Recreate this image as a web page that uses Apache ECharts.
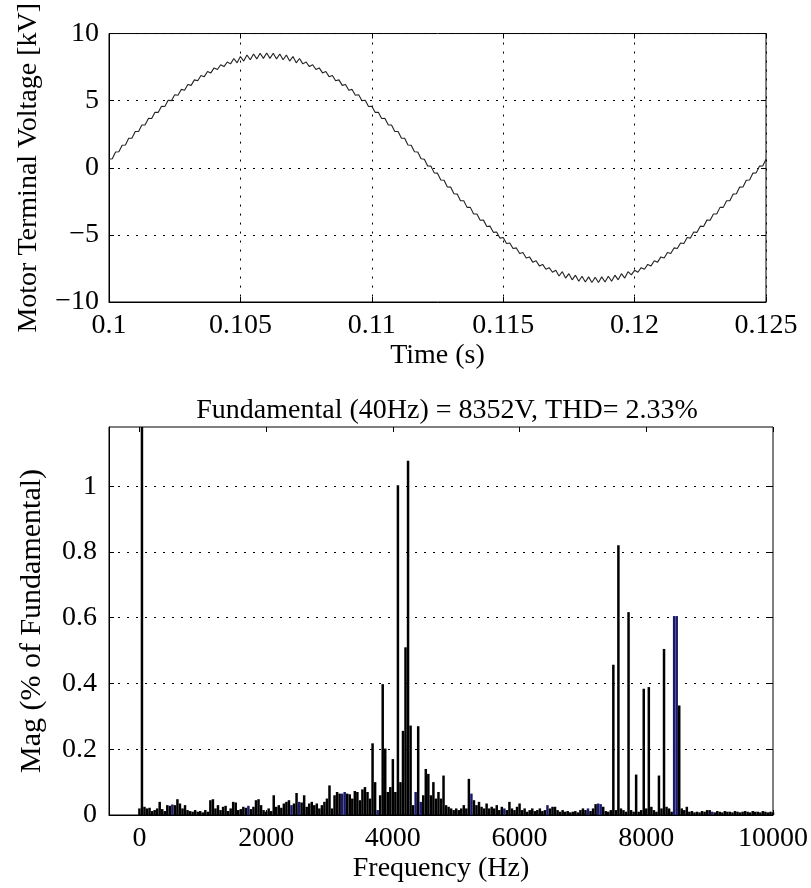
<!DOCTYPE html>
<html><head><meta charset="utf-8">
<script src="https://cdn.jsdelivr.net/npm/echarts@6/dist/echarts.min.js"></script>
<style>html,body{margin:0;padding:0;background:#fff}#c{width:811px;height:888px}</style>
</head><body><div id="c"></div>
<script>
// ---- Top plot: motor terminal voltage, sampled every 0.125 ms from 0.1 s ----
const timeStart = 0.1;
const timeStep = 0.000125;
const voltageKV = [
 0.64, 0.67, 1.17, 1.19, 1.68, 1.70, 2.20, 2.21, 2.70, 2.71,
 3.19, 3.20, 3.68, 3.67, 4.14, 4.13, 4.59, 4.57, 5.03, 5.00,
 5.44, 5.40, 5.84, 5.78, 6.21, 6.14, 6.55, 6.48, 6.88, 6.79,
 7.17, 7.07, 7.44, 7.32, 7.68, 7.54, 7.88, 7.74, 8.14, 7.82,
 8.29, 7.95, 8.40, 8.05, 8.48, 8.11, 8.53, 8.15, 8.55, 8.15,
 8.53, 8.11, 8.48, 8.05, 8.40, 7.95, 8.29, 7.82, 8.14, 7.74,
 7.88, 7.54, 7.68, 7.32, 7.44, 7.07, 7.17, 6.79, 6.88, 6.48,
 6.55, 6.14, 6.21, 5.78, 5.84, 5.40, 5.44, 5.00, 5.03, 4.57,
 4.59, 4.13, 4.14, 3.67, 3.68, 3.20, 3.19, 2.71, 2.70, 2.21,
 2.20, 1.70, 1.68, 1.19, 1.17, 0.67, 0.64, 0.14, 0.12, -0.38,
 -0.40, -0.91, -0.93, -1.43, -1.44, -1.94, -1.96, -2.45, -2.46, -2.95,
 -2.95, -3.44, -3.44, -3.91, -3.90, -4.37, -4.35, -4.81, -4.79, -5.24,
 -5.20, -5.64, -5.60, -6.02, -5.97, -6.38, -6.31, -6.72, -6.64, -7.03,
 -6.93, -7.31, -7.20, -7.56, -7.44, -7.78, -7.64, -8.06, -7.74, -8.22,
 -7.89, -8.35, -8.00, -8.45, -8.08, -8.51, -8.13, -8.55, -8.15, -8.55,
 -8.13, -8.51, -8.08, -8.45, -8.00, -8.35, -7.89, -8.22, -7.74, -7.98,
 -7.64, -7.78, -7.44, -7.56, -7.20, -7.31, -6.93, -7.03, -6.64, -6.72,
 -6.31, -6.38, -5.97, -6.02, -5.60, -5.64, -5.20, -5.24, -4.79, -4.81,
 -4.35, -4.37, -3.90, -3.91, -3.44, -3.44, -2.95, -2.95, -2.46, -2.45,
 -1.96, -1.94, -1.44, -1.43, -0.93, -0.91, -0.40, -0.38, 0.12, 0.14,
 0.64
];
const timeTicks = [0.1, 0.105, 0.11, 0.115, 0.12, 0.125];
const voltTicks = [-10, -5, 0, 5, 10];

// ---- Bottom plot: harmonic spectrum, 40 Hz bins (% of fundamental) ----
const freqStep = 40;
const spectrumLow = [ // 0 .. 3960 Hz
 0.02, 100, 0.025, 0.02, 0.022, 0.012, 0.015, 0.02, 0.04, 0.018,
 0.012, 0.03, 0.028, 0.032, 0.03, 0.048, 0.035, 0.02, 0.03, 0.015,
 0.012, 0.01, 0.015, 0.01, 0.012, 0.008, 0.015, 0.01, 0.045, 0.048,
 0.02, 0.03, 0.015, 0.025, 0.028, 0.012, 0.02, 0.04, 0.038, 0.015,
 0.018, 0.025, 0.022, 0.028, 0.018, 0.025, 0.045, 0.048, 0.03, 0.015,
 0.01, 0.02, 0.012, 0.06, 0.025, 0.03, 0.022, 0.035, 0.04, 0.045,
 0.03, 0.035, 0.067, 0.04, 0.038, 0.06, 0.025, 0.035, 0.04, 0.03,
 0.035, 0.02, 0.03, 0.04, 0.05, 0.09, 0.02, 0.06, 0.07, 0.065,
 0.065, 0.07, 0.065, 0.063, 0.05, 0.073, 0.07, 0.045, 0.078, 0.085,
 0.07, 0.05, 0.218, 0.1, 0.015, 0.06, 0.398, 0.202, 0.07, 0.085
];
const spectrumMid = [ // 4000 .. 7960 Hz
 0.17, 0.07, 1.003, 0.1, 0.256, 0.51, 1.077, 0.272, 0.03, 0.07,
 0.27, 0.04, 0.06, 0.14, 0.125, 0.06, 0.1, 0.05, 0.07, 0.05,
 0.12, 0.03, 0.025, 0.02, 0.015, 0.02, 0.015, 0.02, 0.03, 0.02,
 0.11, 0.065, 0.045, 0.03, 0.04, 0.025, 0.02, 0.035, 0.02, 0.025,
 0.02, 0.03, 0.015, 0.025, 0.02, 0.015, 0.04, 0.02, 0.015, 0.025,
 0.035, 0.015, 0.02, 0.01, 0.015, 0.02, 0.012, 0.015, 0.02, 0.012,
 0.015, 0.03, 0.02, 0.025, 0.025, 0.015, 0.01, 0.015, 0.01, 0.012,
 0.008, 0.01, 0.012, 0.008, 0.015, 0.02, 0.015, 0.02, 0.012, 0.02,
 0.033, 0.035, 0.033, 0.025, 0.012, 0.01, 0.015, 0.457, 0.015, 0.82,
 0.02, 0.015, 0.01, 0.617, 0.015, 0.01, 0.123, 0.01, 0.015, 0.384
];
const spectrumHigh = [ // 8000 .. 10000 Hz
 0.02, 0.389, 0.025, 0.015, 0.01, 0.12, 0.02, 0.505, 0.025, 0.02,
 0.01, 0.605, 0.605, 0.333, 0.02, 0.015, 0.025, 0.01, 0.012, 0.008,
 0.01, 0.008, 0.012, 0.01, 0.015, 0.015, 0.01, 0.008, 0.012, 0.01,
 0.008, 0.012, 0.01, 0.01, 0.008, 0.012, 0.01, 0.008, 0.01, 0.012,
 0.01, 0.008, 0.012, 0.01, 0.01, 0.008, 0.012, 0.01, 0.008, 0.01,
 0.008
];
const blueBinsHz = [520, 1720, 2400, 2520, 3200, 3240, 3760, 4360, 4440, 5240, 5760, 6440, 7080, 7240, 7280, 8440, 8480, 9040];
const freqTicks = [0, 2000, 4000, 6000, 8000, 10000];
const magTicks = [0, 0.2, 0.4, 0.6, 0.8, 1];
const spectrumTitle = 'Fundamental (40Hz) = 8352V, THD= 2.33%';

// ---- build ----
const FONT = 'Liberation Serif';
const FS = 28;
const voltData = voltageKV.map((v, i) => [+(timeStart + i * timeStep).toFixed(6), v]);
const spectrum = spectrumLow.concat(spectrumMid, spectrumHigh);
const specData = spectrum.map((m, i) => {
  const hz = i * freqStep;
  const item = { value: [hz, m] };
  if (blueBinsHz.indexOf(hz) >= 0) item.itemStyle = { color: '#1a1a6a' };
  return item;
});
const minusFmt = v => String(v).replace('-', '\u2212');
const gridLine = { show: true, lineStyle: { color: '#000', type: [2, 7], width: 1 } };
const tick = { show: true, inside: true, length: 5, lineStyle: { color: '#000', width: 1 } };
const lbl = { color: '#000', fontFamily: FONT, fontSize: FS };
const nameStyle = { color: '#000', fontFamily: FONT, fontSize: FS };
const axLine = { show: true, onZero: false, lineStyle: { color: '#000' } };

const chart = echarts.init(document.getElementById('c'), null, { renderer: 'canvas' });
chart.setOption({
  animation: false,
  backgroundColor: '#fff',
  title: {
    text: spectrumTitle, left: 442, top: 392, textAlign: 'center',
    textStyle: { fontFamily: FONT, fontSize: FS, fontWeight: 'normal', color: '#000' }
  },
  grid: [
    { left: 109, top: 23, width: 657, height: 279, show: true, borderColor: '#000', borderWidth: 1, backgroundColor: '#fff' },
    { left: 109, top: 427, width: 667, height: 388, show: true, borderColor: '#000', borderWidth: 1, backgroundColor: '#fff' }
  ],
  xAxis: [
    { gridIndex: 0, type: 'value', min: 0.1, max: 0.125, interval: 0.005, position: 'bottom',
      axisLine: axLine, axisTick: tick,
      axisLabel: Object.assign({ margin: 10, formatter: v => String(+v.toFixed(3)) }, lbl),
      splitLine: gridLine,
      name: 'Time (s)', nameLocation: 'middle', nameGap: 40, nameTextStyle: nameStyle },
    { gridIndex: 0, type: 'value', min: 0.1, max: 0.125, interval: 0.005, position: 'top',
      axisLine: { show: false, onZero: false }, axisTick: tick, axisLabel: { show: false }, splitLine: { show: false } },
    { gridIndex: 1, type: 'value', min: -480, max: 10000, position: 'bottom',
      axisLine: axLine,
      axisTick: Object.assign({ customValues: freqTicks }, tick),
      axisLabel: Object.assign({ margin: 10, customValues: freqTicks, formatter: v => String(Math.round(v)) }, lbl),
      splitLine: { show: false },
      name: 'Frequency (Hz)', nameLocation: 'middle', nameGap: 40, nameTextStyle: nameStyle },
    { gridIndex: 1, type: 'value', min: -480, max: 10000, position: 'top',
      axisLine: { show: false, onZero: false }, axisTick: Object.assign({ customValues: freqTicks }, tick),
      axisLabel: { show: false }, splitLine: { show: false } }
  ],
  yAxis: [
    { gridIndex: 0, type: 'value', min: -10, max: 10, interval: 5, position: 'left',
      axisLine: axLine, axisTick: tick,
      axisLabel: Object.assign({ margin: 10, formatter: minusFmt }, lbl),
      splitLine: gridLine,
      name: 'Motor Terminal Voltage [kV]', nameLocation: 'middle', nameGap: 66, nameRotate: 90, nameTextStyle: nameStyle },
    { gridIndex: 0, type: 'value', min: -10, max: 10, interval: 5, position: 'right',
      axisLine: { show: false, onZero: false }, axisTick: tick, axisLabel: { show: false }, splitLine: { show: false } },
    { gridIndex: 1, type: 'value', min: 0, max: 1.18, interval: 0.2, position: 'left',
      axisLine: axLine,
      axisTick: Object.assign({ customValues: magTicks }, tick),
      axisLabel: Object.assign({ margin: 12, customValues: magTicks, formatter: v => String(+(+v).toFixed(2)) }, lbl),
      splitLine: gridLine,
      name: 'Mag (% of Fundamental)', nameLocation: 'middle', nameGap: 62, nameRotate: 90,
      nameTextStyle: Object.assign({}, nameStyle, { fontSize: 30 }) },
    { gridIndex: 1, type: 'value', min: 0, max: 1.18, interval: 0.2, position: 'right',
      axisLine: { show: false, onZero: false }, axisTick: Object.assign({ customValues: magTicks }, tick),
      axisLabel: { show: false }, splitLine: { show: false } }
  ],
  series: [
    { type: 'line', xAxisIndex: 0, yAxisIndex: 0, data: voltData, showSymbol: false, symbol: 'none',
      lineStyle: { color: '#222', width: 1.1 }, z: 3 },
    { type: 'bar', xAxisIndex: 2, yAxisIndex: 2, data: specData, barWidth: 2.5, clip: true,
      itemStyle: { color: '#000' }, z: 3 }
  ]
});
</script></body></html>
